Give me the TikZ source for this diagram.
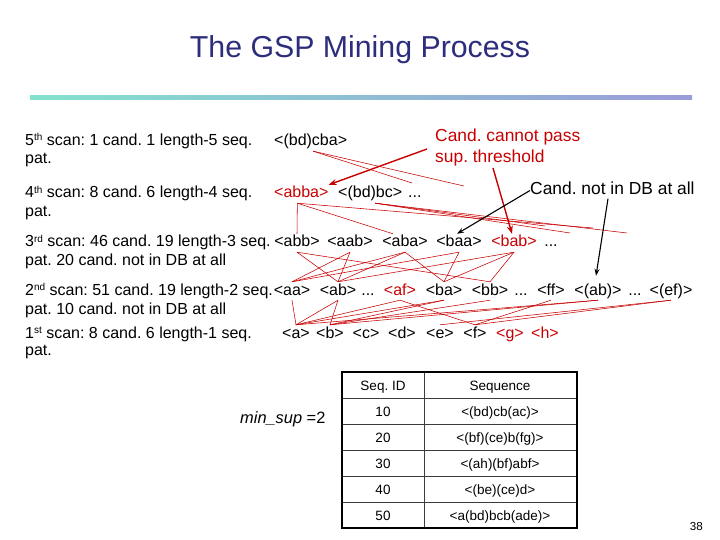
\documentclass[tikz,border=0pt]{standalone}
\usepackage{fontspec}
\setmainfont{Liberation Sans}
\usetikzlibrary{arrows.meta}
\definecolor{titleblue}{RGB}{45,45,125}
\definecolor{redc}{RGB}{200,0,0}
\definecolor{tealc}{RGB}{130,226,205}
\definecolor{lavc}{RGB}{155,155,218}
\definecolor{gridc}{RGB}{60,60,60}
\newcommand\fsz[1]{\fontsize{#1}{#1}\selectfont}
\newcommand\sups[1]{\raisebox{5pt}{\fsz{10}#1}}
\frenchspacing
\begin{document}
\begin{tikzpicture}[x=1pt,y=-1pt,
  lbl/.style={anchor=base west, inner sep=0pt, font=\fsz{16}},
  itm/.style={anchor=base, inner sep=0pt, text height=13pt, text depth=5pt, font=\fsz{16}},
  ritm/.style={itm, text=redc},
  ann/.style={anchor=base west, inner sep=0pt, text height=12.5pt, text depth=3.5pt, font=\fsz{17.4}},
  cell/.style={anchor=base, inner sep=0pt, font=\fsz{13.5}},
  lat/.style={draw=redc, line width=0.55pt},
  redarr/.style={draw=redc, line width=1.4pt, -{Stealth[length=8pt,width=6pt]}},
  blkarr/.style={draw=black, line width=1.1pt, -{Stealth[length=7pt,width=5pt]}}]
\useasboundingbox (0,0) rectangle (720,540);
\fill[white] (0,0) rectangle (720,540);
% title
\node[anchor=base, text=titleblue, font=\fsz{30.3}, inner sep=0pt] (title) at (360,58) {The GSP Mining Process};
\shade[left color=tealc, right color=lavc] (30,95.5) rectangle (692,99.5);
% left labels
\node[lbl] (s5) at (25,146) {5\sups{th} scan: 1 cand. 1 length-5 seq.};
\node[lbl] (s5b) at (25,164) {pat.};
\node[lbl] (s4) at (25,198) {4\sups{th} scan: 8 cand. 6 length-4 seq.};
\node[lbl] (s4b) at (25,217) {pat.};
\node[lbl] (s3) at (25,247) {3\sups{rd} scan: 46 cand. 19 length-3 seq.};
\node[lbl] (s3b) at (25,265) {pat. 20 cand. not in DB at all};
\node[lbl] (s2) at (25,295) {2\sups{nd} scan: 51 cand. 19 length-2 seq.};
\node[lbl] (s2b) at (25,314) {pat. 10 cand. not in DB at all};
\node[lbl] (s1) at (25,338) {1\sups{st} scan: 8 cand. 6 length-1 seq.};
\node[lbl] (s1b) at (25,355) {pat.};
% level 5
\node[itm, anchor=base west] (bdcba) at (274,146) {<(bd)cba>};
% level 4
\node[ritm, anchor=base west] (abba) at (274,198) {<abba>};
\node[itm, anchor=base west] (bdbc) at (338,198) {<(bd)bc>};
\node[itm, anchor=base west] (dotsA) at (408,198) {...};
% level 3
\node[itm] (abb) at (297,247) {<abb>};
\node[itm] (aab) at (350,247) {<aab>};
\node[itm] (aba) at (405,247) {<aba>};
\node[itm] (baa) at (459,247) {<baa>};
\node[ritm] (bab) at (514,247) {<bab>};
\node[itm] (dotsB) at (551,247) {...};
% level 2
\node[itm] (aa) at (292,295) {<aa>};
\node[itm] (ab) at (338,295) {<ab>};
\node[itm] (dotsC) at (368,295) {...};
\node[ritm] (af) at (400,295) {<af>};
\node[itm] (ba) at (444,295) {<ba>};
\node[itm] (bb) at (490,295) {<bb>};
\node[itm] (dotsD) at (521,295) {...};
\node[itm] (ff) at (551,295) {<ff>};
\node[itm] (pab) at (598,295) {<(ab)>};
\node[itm] (dotsE) at (635,295) {...};
\node[itm] (pef) at (671,295) {<(ef)>};
% level 1
\node[itm] (a) at (296,338) {<a>};
\node[itm] (b) at (330,338) {<b>};
\node[itm] (c) at (366,338) {<c>};
\node[itm] (d) at (402,338) {<d>};
\node[itm] (e) at (440,338) {<e>};
\node[itm] (f) at (475,338) {<f>};
\node[ritm] (g) at (510,338) {<g>};
\node[ritm] (h) at (545,338) {<h>};
% annotations
\node[ann, text=redc] (cannotA) at (435,142) {Cand. cannot pass};
\node[ann, text=redc] (cannotB) at (435,163) {sup. threshold};
\node[ann] (notdb) at (530,195) {Cand. not in DB at all};
% free ends
\coordinate (u1) at (412,183);
\coordinate (u2) at (464,186);
\coordinate (v1) at (593,228);
\coordinate (v2) at (570,233);
\coordinate (v3) at (627,233);
\coordinate (v4) at (545,226);
\coordinate (r1s) at (427,149);
\coordinate (r2s) at (493,168);
% lattice 5 -> 4
\draw[lat] ([xshift=2.5pt]bdcba.south) -- (u1);
\draw[lat] ([xshift=2.5pt]bdcba.south) -- (u2);
% lattice 4 -> 3
\draw[lat] ([xshift=-4pt]abba.south) -- (abb.north);
\draw[lat] ([xshift=-4pt]abba.south) -- ([xshift=-12pt]aba.north);
\draw[lat] ([xshift=-4pt]abba.south) -- (v1);
\draw[lat] ([xshift=5pt]bdbc.south) -- (v2);
\draw[lat] ([xshift=5pt]bdbc.south) -- (v3);
\draw[lat] ([xshift=5pt]bdbc.south) -- (v4);
% lattice 3 -> 2
\draw[lat] (abb.south) -- (ab.north);
\draw[lat] (abb.south) -- (bb.north);
\draw[lat] (aab.south) -- (aa.north);
\draw[lat] (aab.south) -- (ab.north);
\draw[lat] (aba.south) -- (aa.north);
\draw[lat] (aba.south) -- (ab.north);
\draw[lat] (aba.south) -- (ba.north);
\draw[lat] (baa.south) -- (aa.north);
\draw[lat] (baa.south) -- (ba.north);
\draw[lat] (bab.south) -- (ab.north);
\draw[lat] (bab.south) -- (ba.north);
\draw[lat] (bab.south) -- (bb.north);
% lattice 2 -> 1
\draw[lat] (aa.south) -- (a.north);
\draw[lat] (ab.south) -- (a.north);
\draw[lat] (ab.south) -- (b.north);
\draw[lat] (af.south) -- (a.north);
\draw[lat] (af.south) -- (f.north);
\draw[lat] (ba.south) -- (b.north);
\draw[lat] (ba.south) -- (a.north);
\draw[lat] (bb.south) -- (b.north);
\draw[lat] (ff.south) -- (f.north);
\draw[lat] (pab.south) -- (a.north);
\draw[lat] (pab.south) -- (b.north);
\draw[lat] (pef.south) -- (e.north);
\draw[lat] (pef.south) -- (f.north);
% arrows
\draw[redarr] (r1s) -- (abba.north east);
\draw[redarr] (r2s) -- ([xshift=-2pt]bab.north);
\draw[blkarr] (notdb.west) -- ([xshift=-2pt]baa.north);
\draw[blkarr] ([xshift=78pt]notdb.south west) -- ([xshift=-2pt,yshift=6pt]pab.north);
% min_sup
\node[anchor=base west, inner sep=0pt, font=\fsz{16.4}] (minsup) at (240,423) {\itshape min\_sup \upshape=2};
% table
\draw[gridc, line width=0.8pt] (342,398) -- (577,398);
\draw[gridc, line width=0.8pt] (342,424) -- (577,424);
\draw[gridc, line width=0.8pt] (342,450) -- (577,450);
\draw[gridc, line width=0.8pt] (342,476) -- (577,476);
\draw[gridc, line width=0.8pt] (342,502) -- (577,502);
\draw[gridc, line width=0.8pt] (424,372) -- (424,528);
\draw[black, line width=1.8pt] (342,372) rectangle (577,528);
\node[cell] (hid) at (383,390) {Seq. ID};
\node[cell] (hseq) at (500,390) {Sequence};
\node[cell] (i1) at (383,416) {10};
\node[cell] (q1) at (500,416) {<(bd)cb(ac)>};
\node[cell] (i2) at (383,442) {20};
\node[cell] (q2) at (500,442) {<(bf)(ce)b(fg)>};
\node[cell] (i3) at (383,468) {30};
\node[cell] (q3) at (500,468) {<(ah)(bf)abf>};
\node[cell] (i4) at (383,494) {40};
\node[cell] (q4) at (500,494) {<(be)(ce)d>};
\node[cell] (i5) at (383,520) {50};
\node[cell] (q5) at (500,520) {<a(bd)bcb(ade)>};
% page number
\node[anchor=base east, inner sep=0pt, font=\fsz{11.6}] (pg) at (703,530) {38};
\end{tikzpicture}
\end{document}
